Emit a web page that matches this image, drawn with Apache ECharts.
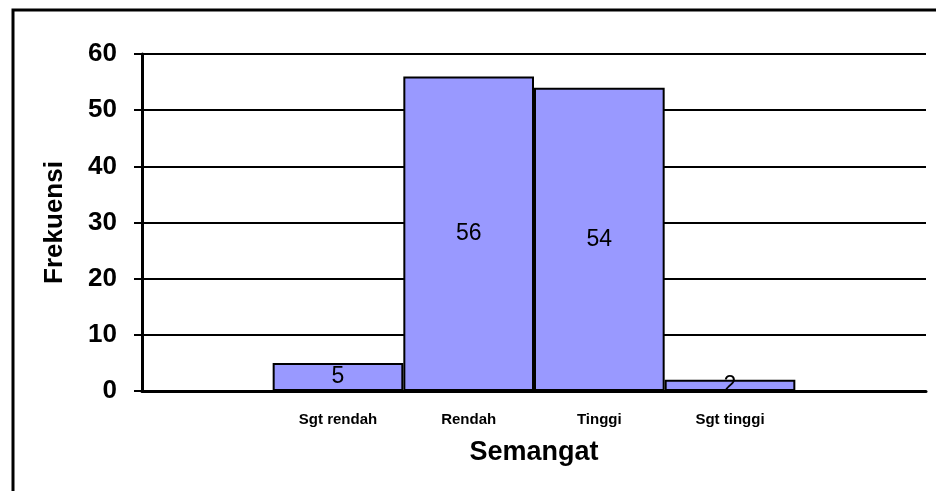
<!DOCTYPE html>
<html>
<head>
<meta charset="utf-8">
<script src="https://cdn.jsdelivr.net/npm/echarts@6/dist/echarts.min.js"></script>
<style>
  html, body { margin: 0; padding: 0; background: #fff; }
</style>
</head>
<body>
<div id="main" style="width: 936px;height:491px;"></div>
<script>
// kategori semangat (kosong di kedua ujung, seperti di grafik asli)
const categories = [' ', 'Sgt rendah', 'Rendah', 'Tinggi', 'Sgt tinggi', '  '];
const frekuensi = ['-', 5, 56, 54, 2, '-'];
const yTicks = [0, 10, 20, 30, 40, 50, 60];

const myChart = echarts.init(document.getElementById('main'));

const option = {
  backgroundColor: '#fff',
  animation: false,
  graphic: [
    {
      type: 'rect',
      shape: { x: 13, y: 10, width: 940, height: 500 },
      style: { fill: 'none', stroke: '#000', lineWidth: 3 },
      silent: true
    }
  ],
  grid: {
    left: 142,
    right: 10,
    top: 54,
    bottom: 100
  },
  xAxis: {
    type: 'category',
    data: categories,
    name: 'Semangat',
    nameLocation: 'middle',
    nameGap: 48,
    nameTextStyle: {
      fontFamily: 'Liberation Sans, Arial',
      fontWeight: 'bold',
      fontSize: 27,
      color: '#000'
    },
    boundaryGap: true,
    axisLine: { lineStyle: { color: '#000', width: 3 } },
    axisTick: { length: 5, lineStyle: { color: '#000', width: 2 } },
    axisLabel: {
      interval: 0,
      margin: 21,
      fontFamily: 'Liberation Sans, Arial',
      fontWeight: 'bold',
      fontSize: 15,
      color: '#000'
    }
  },
  yAxis: {
    type: 'value',
    min: yTicks[0],
    max: yTicks[yTicks.length - 1],
    interval: 10,
    name: 'Frekuensi',
    nameLocation: 'middle',
    nameGap: 74,
    nameTextStyle: {
      fontFamily: 'Liberation Sans, Arial',
      fontWeight: 'bold',
      fontSize: 26,
      color: '#000'
    },
    axisLine: { show: true, lineStyle: { color: '#000', width: 3 } },
    axisTick: { show: true, length: 8, lineStyle: { color: '#000', width: 2 } },
    axisLabel: {
      margin: 25,
      fontFamily: 'Liberation Sans, Arial',
      fontWeight: 'bold',
      fontSize: 26,
      color: '#000'
    },
    splitLine: { lineStyle: { color: '#000', width: 2 } }
  },
  series: [
    {
      name: 'Frekuensi',
      type: 'bar',
      data: frekuensi,
      barCategoryGap: '0%',
      itemStyle: {
        color: '#9999FF',
        borderColor: '#000',
        borderWidth: 2
      },
      label: {
        show: true,
        position: 'inside',
        fontFamily: 'Liberation Sans, Arial',
        fontSize: 23,
        color: '#000'
      }
    }
  ]
};

myChart.setOption(option);
</script>
</body>
</html>
